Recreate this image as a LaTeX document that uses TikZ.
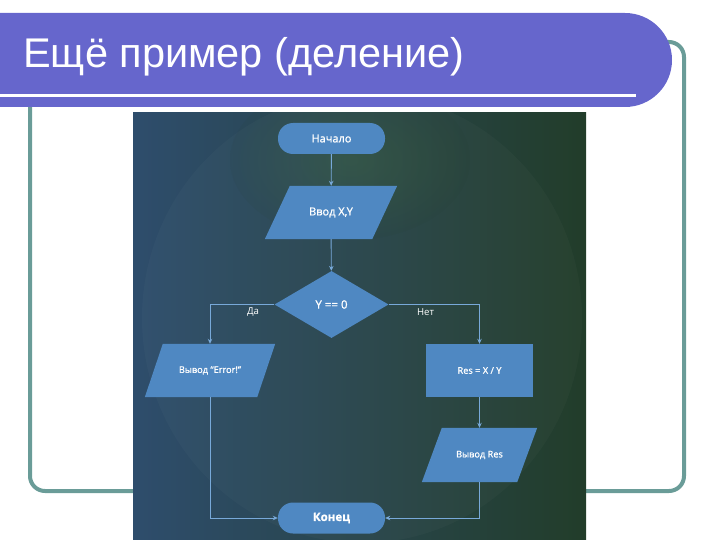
\documentclass[tikz,border=0pt]{standalone}
\usepackage{fontspec}
\setmainfont{Liberation Sans}
\newfontfamily\flowfont{Open Sans}[FakeBold=1.2]
\newfontfamily\flowthin{Open Sans}
\usetikzlibrary{shapes.geometric,arrows.meta,backgrounds}
\definecolor{bandpurple}{HTML}{6666CC}
\definecolor{frameteal}{HTML}{6A9C98}
\definecolor{bgblue}{HTML}{2E4D6C}
\definecolor{bggreen}{HTML}{223D2A}
\definecolor{shapeblue}{HTML}{4F88C2}
\definecolor{lineblue}{HTML}{78A9D9}
\begin{document}
\begin{tikzpicture}[x=1pt,y=-1pt,
  term/.style={shape=rectangle, rounded corners=15pt, fill=shapeblue,
    minimum width=107pt, minimum height=31pt, inner sep=0pt, text=white},
  procbox/.style={shape=rectangle, fill=shapeblue, minimum width=107pt,
    minimum height=53pt, inner sep=0pt, text=white},
  ionode/.style={shape=rectangle, minimum height=53pt, inner sep=0pt, text=white},
  decision/.style={shape=diamond, fill=shapeblue, minimum width=114pt,
    minimum height=67pt, aspect=1.7, inner sep=0pt, text=white},
  lbl/.style={text=white, inner sep=0pt, font=\flowthin\fontsize{9.6}{11}\selectfont},
  conn/.style={draw=lineblue, line width=0.9pt, -{Stealth[length=5pt,width=4.5pt]}},
  bigfont/.style={font=\flowfont\fontsize{11}{13}\selectfont},
  smallfont/.style={font=\flowfont\fontsize{9.2}{11}\selectfont}
]
\useasboundingbox (0,0) rectangle (720,540);

\begin{scope}[on background layer]
  % frame
  \draw[frameteal, line width=4pt, rounded corners=15pt] (30,42) rectangle (684,491);
  % title band
  \fill[bandpurple, rounded corners=47pt] (-80,13) rectangle (672,107);
  \fill[white] (-5,94.3) rectangle (636,96.8);
  % picture background
  \shade[left color=bgblue, right color=bggreen] (133,113) rectangle (586,540);
  \begin{scope}
    \clip (133,113) rectangle (586,540);
    \fill[white, opacity=0.025] (362,318) ellipse [x radius=220pt, y radius=225pt];
    \shade[inner color=yellow!60!green, outer color=bggreen, opacity=0.07]
      (350,160) ellipse [x radius=120pt, y radius=80pt];
  \end{scope}
\end{scope}

% title
\node[anchor=base west, inner sep=0pt, text=white, font=\fontsize{41.5}{48}\selectfont]
  (title) at (23,67.7) {Ещё пример (деление)};

% flowchart nodes
\node[term, bigfont] (start) at (331.5,138.5) {Начало};
\node[ionode, bigfont, minimum width=107pt] (in) at (331,212.5) {Ввод X,Y};
\node[decision, font=\flowfont\fontsize{11.5}{13}\selectfont] (cond) at (331.5,304.5) {Y == 0};
\node[ionode, smallfont, minimum width=112pt] (err) at (210,370.5) {Вывод “Error!”};
\node[procbox, smallfont] (res) at (479.5,370.5) {Res = X / Y};
\node[ionode, smallfont, minimum width=95pt, minimum height=54pt] (outres) at (479.5,455) {Вывод Res};
\node[term, font=\flowfont\bfseries\fontsize{11.5}{13}\selectfont] (end) at (331.5,518) {Конец};

\node[lbl] (yes) at (253,312) {Да};
\node[lbl] (no) at (425.5,312) {Нет};

% parallelogram bodies
\begin{scope}[on background layer]
  \fill[shapeblue] ([xshift=12.5pt]in.north west) -- ([xshift=12.5pt]in.north east)
    -- ([xshift=-12.5pt]in.south east) -- ([xshift=-12.5pt]in.south west) -- cycle;
  \fill[shapeblue] ([xshift=9pt]err.north west) -- ([xshift=9pt]err.north east)
    -- ([xshift=-9pt]err.south east) -- ([xshift=-9pt]err.south west) -- cycle;
  \fill[shapeblue] ([xshift=10pt]outres.north west) -- ([xshift=10pt]outres.north east)
    -- ([xshift=-10pt]outres.south east) -- ([xshift=-10pt]outres.south west) -- cycle;
\end{scope}

% connectors
\draw[conn] (start) -- (in);
\draw[conn] (in) -- (cond);
\draw[conn] (cond.west) -| (err.north);
\draw[conn] (cond.east) -| (res.north);
\draw[conn] (res) -- (outres);
\draw[conn] (err.south) |- (end.west);
\draw[conn] (outres.south) |- (end.east);
\end{tikzpicture}
\end{document}
